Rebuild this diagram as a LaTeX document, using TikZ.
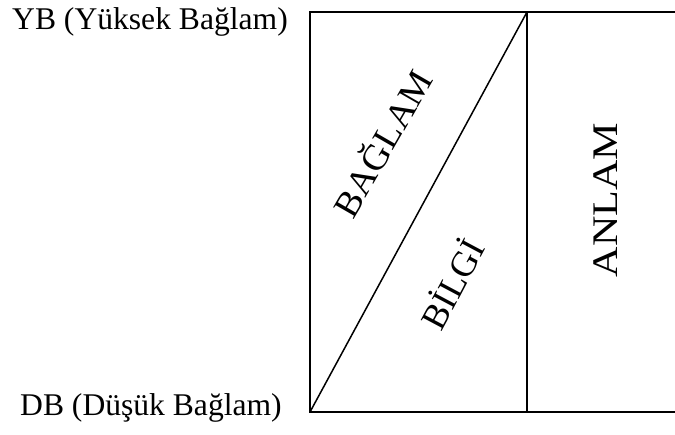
\documentclass[tikz,border=0pt]{standalone}
\usepackage{fontspec}
\setmainfont{Liberation Serif}

\begin{document}
\begin{tikzpicture}[
            x=1pt, y=1pt,
            frame/.style={draw=black, line width=1.5pt},
            level/.style={font=\fontsize{31.6}{36}\selectfont, inner sep=0pt},
            region/.style={font=\fontsize{36}{40}\selectfont, inner sep=0pt, anchor=base}
        ]
        \useasboundingbox (0,0) rectangle (675,434);
        \coordinate (tl) at (310,422);
        \coordinate (bl) at (310,22);
        \coordinate (tm) at (527,422);
        \coordinate (bm) at (527,22);
        \coordinate (tr) at (676,422);
        \coordinate (br) at (676,22);

        \draw[frame] (tr) -- (tl) -- (bl) -- (br);
        \draw[frame] (tm) -- (bm);
        \draw[frame] (bl) -- (tm);

        \node[level, anchor=base west] (yb) at (12,404) {YB (Yüksek Bağlam)};
        \node[level, anchor=base west] (db) at (20,19) {DB (Düşük Bağlam)};

        \node[region, rotate=60] (baglam) at (394,284) {\scalebox{1.04}[1]{BAĞLAM}};
        \node[region, rotate=62] (bilgi) at (464,144) {BİLGİ};
        \node[region, rotate=90] (anlam) at (617,234) {\scalebox{1.17}[1]{ANLAM}};
        \end{tikzpicture}
\end{document}
